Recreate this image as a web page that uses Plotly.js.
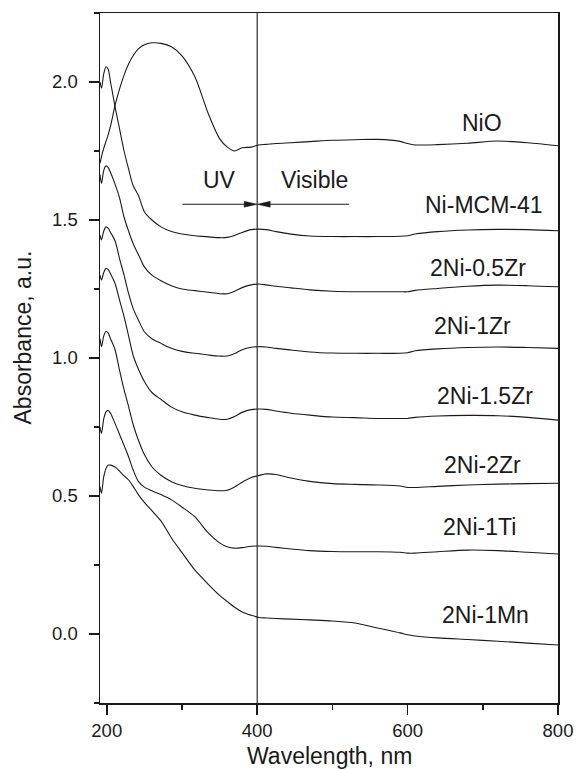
<!DOCTYPE html>
<html>
<head>
<meta charset="utf-8">
<script src="https://cdn.plot.ly/plotly-3.0.1.min.js"></script>
<style>html,body{margin:0;padding:0;background:#fff;}#chart{width:577px;height:770px;}</style>
</head>
<body>
<div id="chart"></div>
<script>
const wavelength = [191,193,196,199,202,205,211,217,223,229,235,242,250,260,272,286,300,317,335,350,360,370,380,392,402,412,425,445,470,500,530,560,590,600,610,640,680,720,760,800];

const NiO      = [1.706,1.73,1.76,1.785,1.81,1.84,1.915,1.975,2.025,2.065,2.095,2.12,2.135,2.142,2.14,2.128,2.095,2.02,1.885,1.795,1.765,1.750,1.762,1.764,1.772,1.774,1.777,1.780,1.784,1.789,1.791,1.792,1.785,1.777,1.772,1.773,1.778,1.786,1.780,1.769];
const NiMCM41  = [2.000,1.978,2.03,2.055,2.045,2.00,1.911,1.83,1.75,1.685,1.625,1.59,1.53,1.50,1.475,1.458,1.449,1.443,1.439,1.436,1.437,1.444,1.455,1.465,1.467,1.465,1.458,1.449,1.442,1.440,1.440,1.440,1.441,1.443,1.449,1.458,1.464,1.466,1.465,1.461];
const Ni05Zr   = [1.665,1.633,1.68,1.696,1.69,1.672,1.63,1.58,1.51,1.46,1.415,1.375,1.33,1.30,1.28,1.262,1.250,1.244,1.238,1.233,1.233,1.242,1.255,1.265,1.268,1.265,1.260,1.254,1.247,1.242,1.240,1.240,1.240,1.240,1.245,1.252,1.260,1.264,1.262,1.258];
const Ni1Zr    = [1.445,1.428,1.46,1.475,1.47,1.455,1.425,1.36,1.30,1.234,1.18,1.138,1.095,1.07,1.053,1.035,1.024,1.017,1.011,1.007,1.007,1.016,1.030,1.039,1.041,1.040,1.035,1.029,1.022,1.018,1.017,1.017,1.017,1.019,1.026,1.033,1.038,1.040,1.038,1.035];
const Ni15Zr   = [1.30,1.283,1.31,1.325,1.32,1.305,1.27,1.21,1.15,1.08,1.01,0.96,0.915,0.875,0.85,0.822,0.805,0.793,0.784,0.778,0.778,0.788,0.803,0.813,0.815,0.814,0.808,0.800,0.793,0.786,0.784,0.781,0.781,0.781,0.785,0.790,0.792,0.791,0.785,0.775];
const Ni2Zr    = [1.07,1.041,1.08,1.096,1.09,1.07,1.03,0.955,0.885,0.824,0.76,0.703,0.65,0.606,0.575,0.552,0.538,0.528,0.522,0.519,0.521,0.533,0.550,0.567,0.574,0.580,0.578,0.565,0.553,0.545,0.542,0.540,0.536,0.531,0.531,0.535,0.540,0.543,0.545,0.546];
const Ni1Ti    = [0.75,0.727,0.78,0.805,0.81,0.80,0.763,0.723,0.683,0.642,0.595,0.553,0.532,0.519,0.505,0.486,0.46,0.425,0.366,0.33,0.316,0.311,0.313,0.318,0.319,0.318,0.314,0.308,0.302,0.299,0.298,0.298,0.296,0.293,0.293,0.298,0.304,0.302,0.296,0.290];
const Ni1Mn    = [0.534,0.51,0.57,0.60,0.612,0.612,0.605,0.59,0.573,0.558,0.535,0.505,0.477,0.447,0.41,0.348,0.295,0.232,0.18,0.14,0.118,0.097,0.08,0.068,0.06,0.058,0.056,0.054,0.051,0.047,0.040,0.022,0.004,-0.003,-0.007,-0.014,-0.020,-0.026,-0.033,-0.040];

const seriesNames = ['NiO','Ni-MCM-41','2Ni-0.5Zr','2Ni-1Zr','2Ni-1.5Zr','2Ni-2Zr','2Ni-1Ti','2Ni-1Mn'];
const seriesValues = [NiO, NiMCM41, Ni05Zr, Ni1Zr, Ni15Zr, Ni2Zr, Ni1Ti, Ni1Mn];
const labelX = [699, 701, 694, 686, 703, 699, 695, 703];
const labelY = [1.851, 1.553, 1.325, 1.117, 0.863, 0.612, 0.386, 0.069];

const boundaryWavelength = 400;
const arrowY = 1.557;

const font = 'Liberation Sans, Arial, sans-serif';
const ink = '#1a1a1a';

const traces = seriesValues.map((v, i) => ({
  x: wavelength, y: v, type: 'scatter', mode: 'lines', name: seriesNames[i],
  line: {color: ink, width: 1.1, shape: 'spline', smoothing: 0.8},
  hoverinfo: 'skip'
}));

const annotations = seriesNames.map((n, i) => ({
  x: labelX[i], y: labelY[i], xref: 'x', yref: 'y', text: n, showarrow: false,
  xanchor: 'center', yanchor: 'middle', font: {family: font, size: 23, color: ink}
}));
annotations.push({x: 350, y: 1.645, xref: 'x', yref: 'y', text: 'UV', showarrow: false, xanchor: 'center', yanchor: 'middle', font: {family: font, size: 23, color: ink}});
annotations.push({x: 476, y: 1.645, xref: 'x', yref: 'y', text: 'Visible', showarrow: false, xanchor: 'center', yanchor: 'middle', font: {family: font, size: 23, color: ink}});
annotations.push({x: 0.5, y: 0, xref: 'paper', yref: 'paper', yshift: -53, text: 'Wavelength, nm', showarrow: false, xanchor: 'center', yanchor: 'middle', font: {family: font, size: 23, color: ink}});
annotations.push({x: 0, y: 0.5297, xref: 'paper', yref: 'paper', xshift: -77, text: 'Absorbance, a.u.', textangle: -90, showarrow: false, xanchor: 'center', yanchor: 'middle', font: {family: font, size: 23, color: ink}});

const dy = 0.0105;
const shapes = [
  {type: 'line', xref: 'x', yref: 'paper', x0: boundaryWavelength, x1: boundaryWavelength, y0: 0, y1: 1, line: {color: ink, width: 1.1}},
  {type: 'line', xref: 'x', yref: 'y', x0: 300.5, x1: 383, y0: arrowY, y1: arrowY, line: {color: ink, width: 1.1}},
  {type: 'line', xref: 'x', yref: 'y', x0: 417, x1: 522, y0: arrowY, y1: arrowY, line: {color: ink, width: 1.1}},
  {type: 'path', xref: 'x', yref: 'y', path: `M 382.7 ${arrowY-dy} L 400 ${arrowY} L 382.7 ${arrowY+dy} Z`, fillcolor: ink, line: {color: ink, width: 0.5}},
  {type: 'path', xref: 'x', yref: 'y', path: `M 417.3 ${arrowY-dy} L 400 ${arrowY} L 417.3 ${arrowY+dy} Z`, fillcolor: ink, line: {color: ink, width: 0.5}}
];

const axisCommon = {
  showgrid: false, zeroline: false, showline: true, linecolor: ink, linewidth: 1.5, mirror: true,
  ticks: 'outside', ticklen: 10, tickwidth: 1.5, tickcolor: ink,
  tickfont: {family: font, size: 18.5, color: ink}
};

const layout = {
  width: 577, height: 770,
  margin: {l: 100, r: 19, t: 13, b: 67},
  paper_bgcolor: '#fff', plot_bgcolor: '#fff',
  showlegend: false,
  xaxis: Object.assign({}, axisCommon, {
    range: [191, 800], tick0: 0, dtick: 200,
    minor: {dtick: 100, tick0: 0, ticks: 'outside', ticklen: 5, tickwidth: 1.5, tickcolor: ink}
  }),
  yaxis: Object.assign({}, axisCommon, {
    range: [-0.25, 2.25], tick0: 0, dtick: 0.5, tickformat: '.1f', ticklabelstandoff: 7,
    minor: {dtick: 0.25, tick0: 0, ticks: 'outside', ticklen: 5, tickwidth: 1.5, tickcolor: ink}
  }),
  annotations: annotations,
  shapes: shapes
};

Plotly.newPlot('chart', traces, layout, {staticPlot: true, displayModeBar: false});
</script>
</body>
</html>
